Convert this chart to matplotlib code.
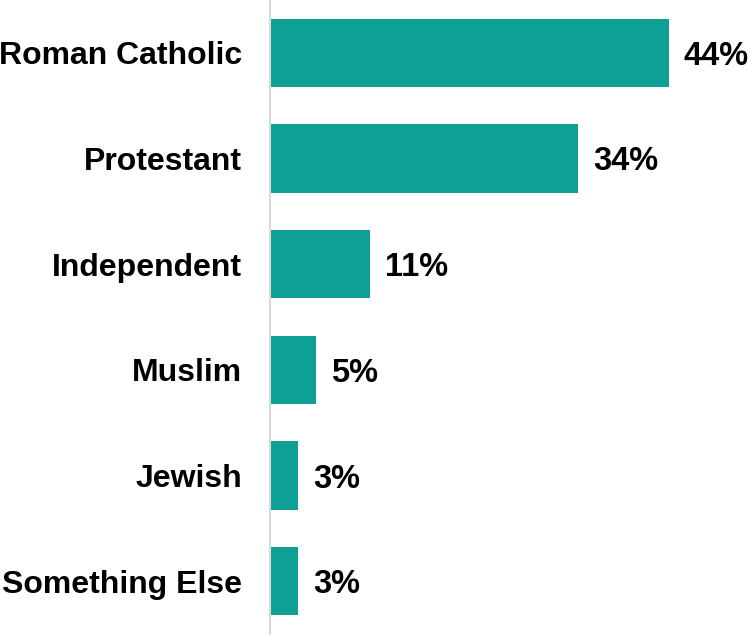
import matplotlib
matplotlib.use("Agg")
import matplotlib.pyplot as plt

categories = ["Roman Catholic", "Protestant", "Independent", "Muslim", "Jewish", "Something Else"]
values = [44, 34, 11, 5, 3, 3]
value_labels = ["44%", "34%", "11%", "5%", "3%", "3%"]

plt.rcParams['font.family'] = ['Liberation Sans', 'DejaVu Sans']

fig = plt.figure(figsize=(7.53, 6.38), dpi=100)
# axes from x=270px to right edge, y from 0 to ~634px
ax = fig.add_axes([270 / 753, 1 - 634 / 638, 1 - 270 / 753, 634 / 638])

pos = list(range(len(categories)))
ax.barh(pos, values, height=0.645, color="#0E9F97", left=0.1)

for p, v, lab in zip(pos, values, value_labels):
    ax.text(v + 1.75, p, lab, va="center_baseline", ha="left", fontsize=23.5,
            fontweight="bold", color="black")

ax.set_xlim(0, 53.4)
ax.set_ylim(5.5, -0.5)
ax.set_yticks(pos)
ax.set_yticklabels(categories, fontsize=23, fontweight="bold")
ax.tick_params(axis="y", length=0, pad=20)
ax.set_xticks([])

for s in ["top", "right", "bottom"]:
    ax.spines[s].set_visible(False)
ax.spines["left"].set_color("#D9D9D9")
ax.spines["left"].set_linewidth(1.5)

fig.savefig("out.png", dpi=100)
